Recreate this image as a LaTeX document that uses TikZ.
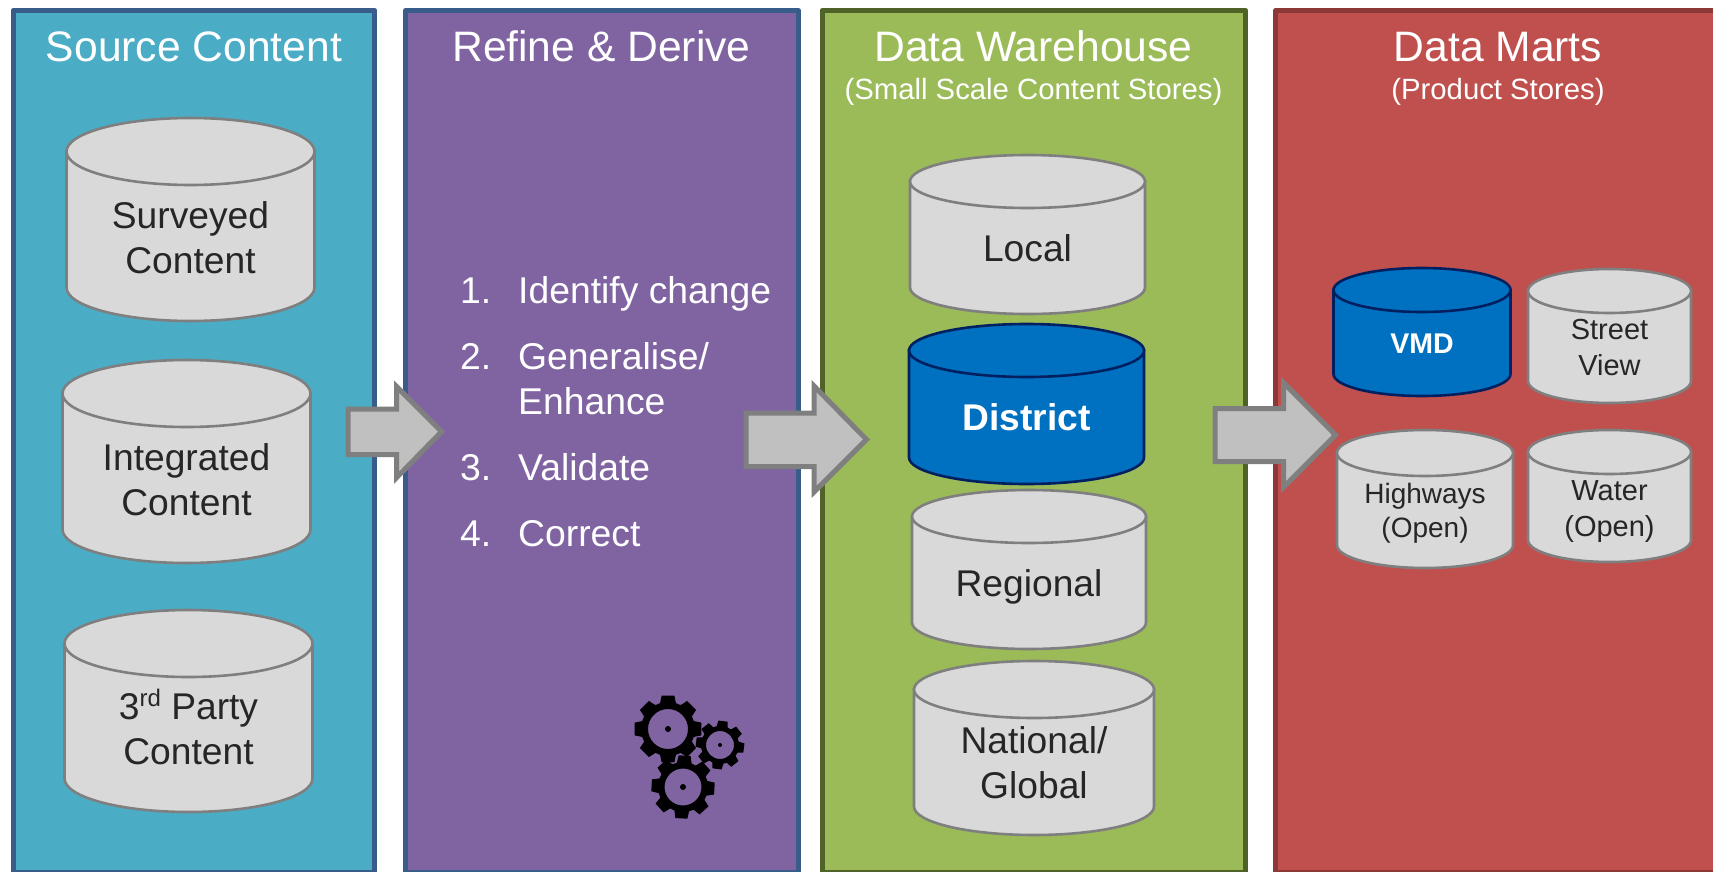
\documentclass[tikz,border=0pt]{standalone}
\usepackage{fontspec}
\setmainfont{Liberation Sans}
\newcommand{\fs}[1]{\fontsize{#1}{#1}\selectfont}
\tikzset{
  panel/.style={line width=5pt,line join=round},
  greycyl/.style={fill=cylgrey,draw=cylline,line width=2.6pt},
  bluecyl/.style={fill=cylblue,draw=cylnavy,line width=2.6pt},
  greytext/.style={text=inkdark,align=center,inner sep=0pt},
  bluetext/.style={text=white,align=center,inner sep=0pt},
  big/.style={font=\fontsize{37.2}{45}\selectfont},
  mid/.style={font=\fontsize{29}{36}\selectfont},
  paneltext/.style={text=white,align=center,inner sep=0pt,anchor=base},
  listtext/.style={text=white,anchor=base west,inner sep=0pt},
  blockarrow/.style={fill=arrowfill,draw=arrowline,line width=5pt,miter limit=10},
}
\definecolor{cylgrey}{HTML}{D9D9D9}
\definecolor{cylline}{HTML}{7F7F7F}
\definecolor{cylblue}{HTML}{0070C0}
\definecolor{cylnavy}{HTML}{002060}
\definecolor{inkdark}{HTML}{262626}
\definecolor{arrowfill}{HTML}{C0C0C0}
\definecolor{arrowline}{HTML}{7F7F7F}
\definecolor{teal}{HTML}{4BACC6}
\definecolor{purp}{HTML}{8064A2}
\definecolor{grn}{HTML}{9BBB59}
\definecolor{rd}{HTML}{C0504D}
\definecolor{bluedge}{HTML}{385D8A}
\definecolor{grnedge}{HTML}{4F6228}
\definecolor{rdedge}{HTML}{8C3836}
% #1 name, #2 x1, #3 ytop, #4 x2, #5 ybottom, #6 ry, #7 style, #8 text style, #9 text
\newcommand{\cyl}[9]{%
  \pgfmathsetmacro{\rx}{(#4-#2)/2}%
  \pgfmathsetmacro{\cx}{(#4+#2)/2}%
  \draw[#7] (#2,#3+#6) -- (#2,#5-#6)
     arc[start angle=180,end angle=0,x radius=\rx,y radius=#6] -- (#4,#3+#6) -- cycle;
  \draw[#7] (#2,#3+#6) arc[start angle=180,end angle=540,x radius=\rx,y radius=#6];
  \node[#8] (#1) at (\cx,{(#3+#6+#5)/2}) {#9};%
}
% gear: #1 cx, #2 cy, #3 outer, #4 root, #5 hub, #6 hole, #7 teeth, #8 phase
\newcommand{\gear}[8]{%
  \pgfmathsetmacro{\st}{360/#7}%
  \pgfmathtruncatemacro{\last}{#7-1}%
  \fill[black,even odd rule,line join=round]
    ({#1+#4*cos(#8-0.38*\st)},{#2+#4*sin(#8-0.38*\st)})
    \foreach \k [evaluate=\k as \a using #8+\k*\st] in {0,...,\last}{
      -- ({#1+#3*cos(\a-0.24*\st)},{#2+#3*sin(\a-0.24*\st)})
      -- ({#1+#3*cos(\a+0.24*\st)},{#2+#3*sin(\a+0.24*\st)})
      -- ({#1+#4*cos(\a+0.38*\st)},{#2+#4*sin(\a+0.38*\st)})
      -- ({#1+#4*cos(\a+0.62*\st)},{#2+#4*sin(\a+0.62*\st)})
    } -- cycle
    (#1,#2) circle[radius=#5];
  \fill[black] (#1,#2) circle[radius=#6];
}
\begin{document}
\begin{tikzpicture}[x=1pt,y=-1pt]
\useasboundingbox (0,0) rectangle (1713,872);
\fill[white] (0,0) rectangle (1713,872);
% panels
\draw[panel,fill=teal,draw=bluedge] (13,10.5) rectangle (374.7,872.5);
\draw[panel,fill=purp,draw=bluedge] (405.5,10.5) rectangle (798.3,872.5);
\draw[panel,fill=grn,draw=grnedge] (822,10.5) rectangle (1245.7,872.5);
\draw[panel,fill=rd,draw=rdedge] (1275.7,10.5) rectangle (1730,872.5);
% titles
\node[paneltext] (t1) at (194,61.7) {\fs{42.6}Source Content};
\node[paneltext] (t2) at (601.4,61.7) {\fs{42.6}Refine \& Derive};
\node[paneltext] (t3) at (1033.5,61.7) {\fs{42.6}Data Warehouse};
\node[paneltext] (t3b) at (1033.5,99.8) {\fs{29.3}(Small Scale Content Stores)};
\node[paneltext] (t4) at (1498,61.7) {\fs{42.6}Data Marts};
\node[paneltext] (t4b) at (1498,99.8) {\fs{29.3}(Product Stores)};
% list
\node[listtext] (n1) at (460,303) {\fs{37.3}1.};
\node[listtext] (l1) at (518,303) {\fs{37.3}Identify change};
\node[listtext] (n2) at (460,369) {\fs{37.3}2.};
\node[listtext] (l2) at (518,369) {\fs{37.3}Generalise/};
\node[listtext] (l2b) at (518,414) {\fs{37.3}Enhance};
\node[listtext] (n3) at (460,480) {\fs{37.3}3.};
\node[listtext] (l3) at (518,480) {\fs{37.3}Validate};
\node[listtext] (n4) at (460,546) {\fs{37.3}4.};
\node[listtext] (l4) at (518,546) {\fs{37.3}Correct};
% cylinders
\cyl{c1}{66.5}{118}{314.5}{321}{33.5}{greycyl}{greytext,big,yshift=-1pt}{Surveyed\\Content}
\cyl{c2}{62.5}{360}{310.5}{563}{33.5}{greycyl}{greytext,big,yshift=-1pt}{Integrated\\Content}
\cyl{c3}{64.5}{610}{312.5}{812}{33.5}{greycyl}{greytext,big,yshift=1pt}{3{\fontsize{24}{24}\selectfont\raisebox{13pt}{rd}} Party\\Content}
\cyl{w1}{910}{155}{1145}{314}{26.5}{greycyl}{greytext,big}{Local}
\cyl{w2}{909}{324}{1144}{484}{26.5}{bluecyl}{bluetext,big}{\bfseries District}
\cyl{w3}{912}{490}{1146}{649}{26.5}{greycyl}{greytext,big,yshift=-4.5pt}{Regional}
\cyl{w4}{914}{661}{1154}{835}{28.5}{greycyl}{greytext,big}{National/\\Global}
\cyl{m1}{1333.5}{268}{1510.5}{396}{22}{bluecyl}{bluetext,font=\fontsize{28.5}{36}\selectfont\bfseries,yshift=-1pt}{VMD}
\cyl{m2}{1528}{269}{1691}{403}{22}{greycyl}{greytext,mid,yshift=-1pt}{Street\\View}
\cyl{m3}{1337}{430}{1513}{568}{23}{greycyl}{greytext,font=\fontsize{28}{34}\selectfont,yshift=-3pt}{Highways\\(Open)}
\cyl{m4}{1528}{430}{1691}{562}{22}{greycyl}{greytext,mid,yshift=-4.5pt}{Water\\(Open)}
% block arrows
\draw[blockarrow] (348,409) -- (396.7,409) -- (396.7,386.7) -- (441.5,431.7) -- (396.7,477.5) -- (396.7,454.5) -- (348,454.5) -- cycle;
\draw[blockarrow] (746,413) -- (814,413) -- (814,386) -- (866.5,439.5) -- (814,492) -- (814,466.5) -- (746,466.5) -- cycle;
\draw[blockarrow] (1215,408.5) -- (1283.5,408.5) -- (1283.5,382.7) -- (1335.5,435) -- (1283.5,487.3) -- (1283.5,461.5) -- (1215,461.5) -- cycle;
% gears
\gear{668}{729}{34}{27}{20}{3}{8}{-90}
\gear{720}{745}{24.5}{19}{14}{2}{8}{-83}
\gear{683}{787}{32}{25}{18.5}{3}{8}{-87}
\end{tikzpicture}
\end{document}
